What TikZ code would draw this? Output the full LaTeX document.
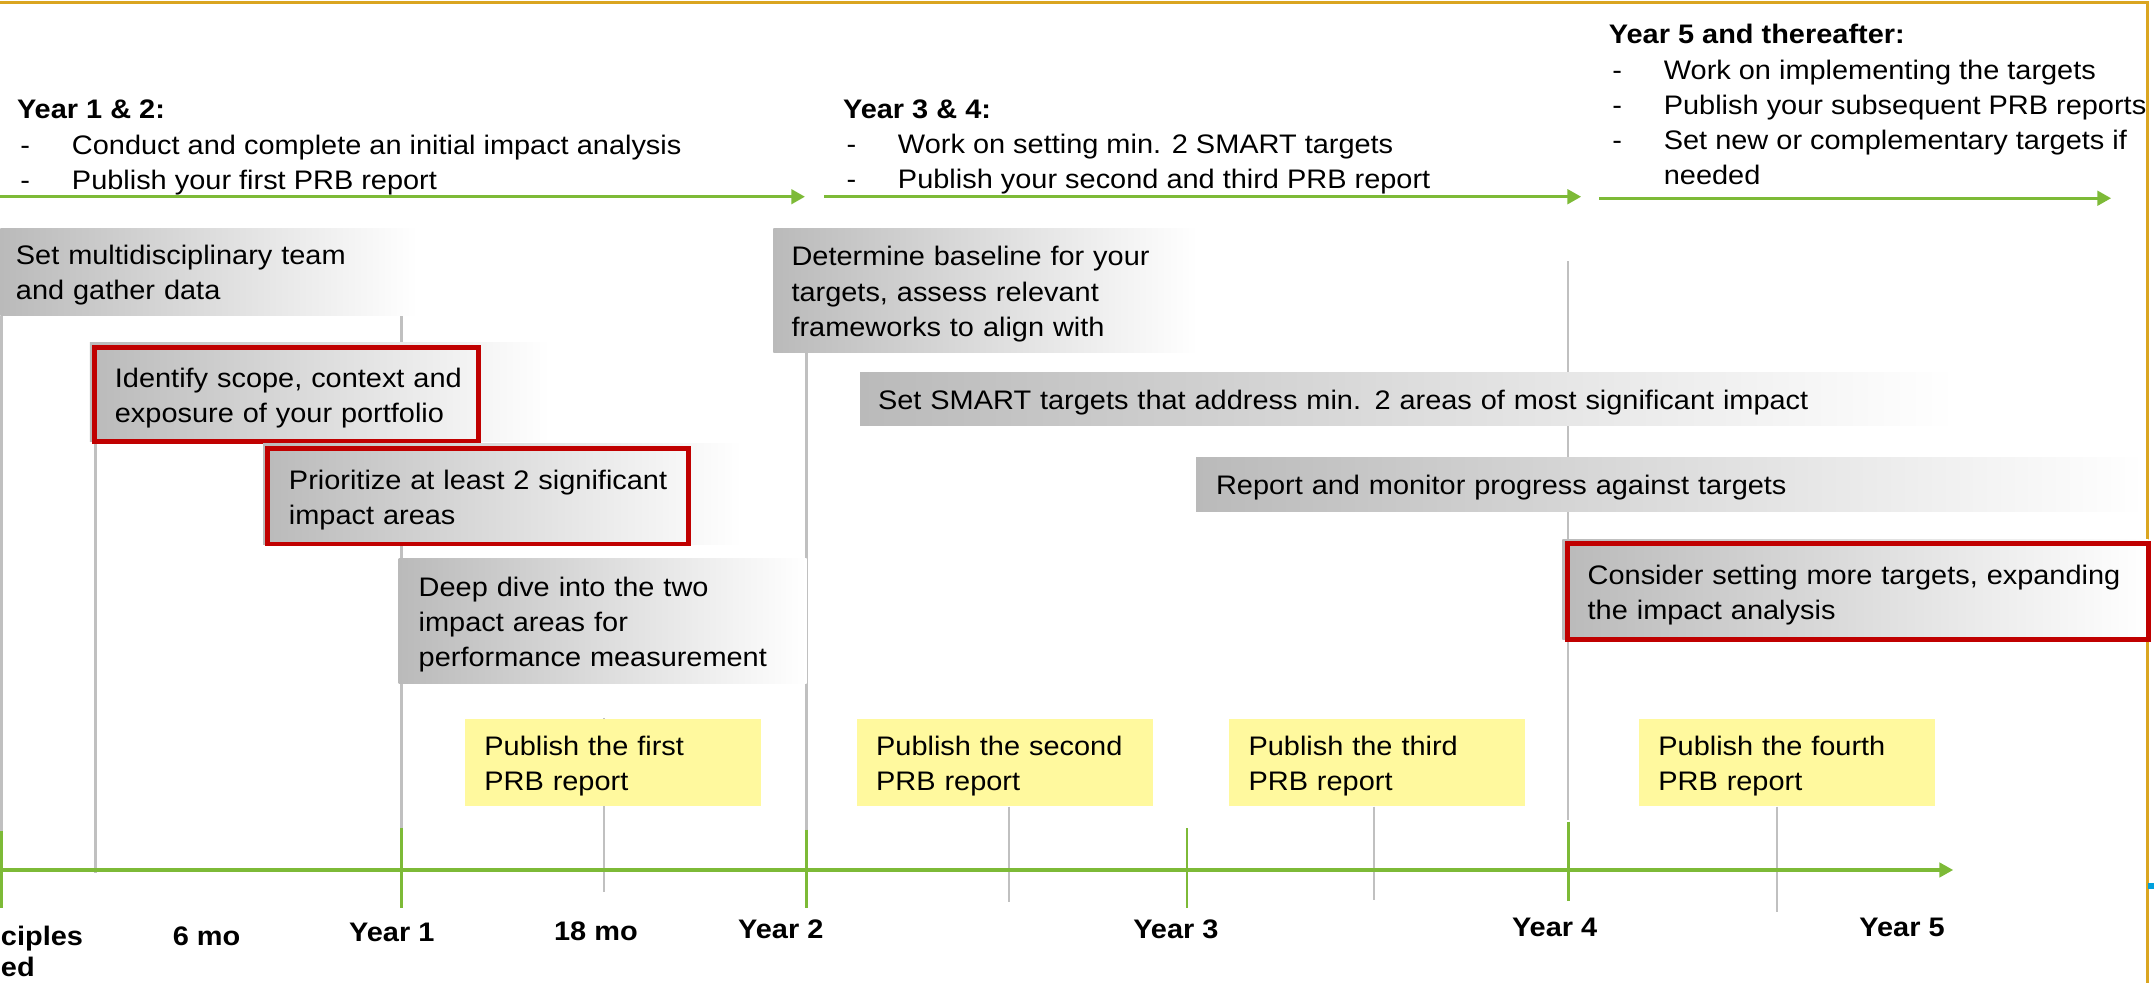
\documentclass[tikz,border=0pt]{standalone}
\usepackage{fontspec}
\setmainfont{Liberation Sans}[FakeStretch=1.08]
\usetikzlibrary{arrows.meta}
\definecolor{tlgreen}{RGB}{125,186,55}
\definecolor{bordergold}{RGB}{218,165,32}
\definecolor{vline}{RGB}{192,192,192}
\definecolor{boxgray}{RGB}{186,186,186}
\definecolor{framered}{RGB}{192,0,0}
\definecolor{pubyellow}{RGB}{255,249,158}
\definecolor{markblue}{RGB}{0,160,220}
\newcommand\mainfs{\fontsize{19.5}{25.6}\selectfont}
\newcommand\bx[1]{\raisebox{-2.5pt}[\height][\depth]{\begin{tabular}[t]{@{}l@{}}#1\end{tabular}}}
\newcommand\bul{\hspace*{2.5pt}\makebox[37.5pt][l]{-}}
\pgfdeclarelayer{bg}
\pgfsetlayers{bg,main}
\begin{document}
\begin{tikzpicture}[x=1pt,y=-1pt,
  arr/.style={draw=tlgreen, line width=2.4pt, -{Triangle[length=10pt,width=10.5pt]}},
  gtick/.style={draw=tlgreen, line width=2pt},
  vl/.style={draw=vline, line width=1.8pt},
  gbox/.style={anchor=north west, inner ysep=0pt, left color=boxgray, right color=white, font=\mainfs, align=left},
  ybox/.style={anchor=north west, inner ysep=0pt, fill=pubyellow, font=\mainfs, align=left},
  rframe/.style={anchor=north west, inner ysep=0pt, draw=framered, line width=3.5pt, font=\mainfs, align=left},
  hdr/.style={anchor=base west, inner sep=0pt, font=\mainfs},
  lab/.style={anchor=base, inner sep=0pt, font=\mainfs\bfseries}]
\useasboundingbox (0,0) rectangle (1568,715);

% frame of the slide
\draw[bordergold, line width=2pt] (0,2) -- (1563,2) -- (1563,716);
\fill[markblue] (1563.8,643) rectangle (1568,647);

% headers
\node[hdr] (h12) at (12.2,86.6) {\begin{tabular}[t]{@{}l@{}}\textbf{Year 1 \& 2:}\\
  \bul Conduct and complete an initial impact analysis\\
  \bul Publish your first PRB report\end{tabular}};
\node[hdr] (h34) at (613.5,86) {\begin{tabular}[t]{@{}l@{}}\textbf{Year 3 \& 4:}\\
  \bul Work on setting min. 2 SMART targets\\
  \bul Publish your second and third PRB report\end{tabular}};
\node[hdr] (h5) at (1171,32) {\begin{tabular}[t]{@{}l@{}}\textbf{Year 5 and thereafter:}\\
  \bul Work on implementing the targets\\
  \bul Publish your subsequent PRB reports\\
  \bul Set new or complementary targets if\\
  \hspace*{40pt}needed\end{tabular}};

% phase arrows
\coordinate (a1s) at (0,143.2);    \coordinate (a1e) at (586,143.2);
\coordinate (a2s) at (600,143.2);  \coordinate (a2e) at (1151,143.2);
\coordinate (a3s) at (1164,144.3); \coordinate (a3e) at (1536.8,144.3);
\draw[arr] (a1s) -- (a1e);
\draw[arr] (a2s) -- (a2e);
\draw[arr] (a3s) -- (a3e);

% timeline marks
\coordinate (m0) at (1,633.3);
\coordinate (m6) at (69.5,633.3);
\coordinate (y1) at (292.3,633.3);
\coordinate (m18) at (439.7,633.3);
\coordinate (y2) at (587,633.3);
\coordinate (m30) at (734.3,633.3);
\coordinate (y3) at (864,633.3);
\coordinate (m42) at (1000,633.3);
\coordinate (y4) at (1141.5,633.3);
\coordinate (m54) at (1293.7,633.3);
\coordinate (y4top) at (1141.5,190);
\coordinate (tlend) at (1421.8,633.3);

% grey activity boxes
\node[gbox, minimum width=304pt, minimum height=63.1pt, inner xsep=11.4pt, text width=281.2pt] (team) at (0,166.2)
  {\bx{Set multidisciplinary team\\and gather data}};
\node[gbox, minimum width=309pt, minimum height=90.3pt, inner xsep=13.3pt, text width=282.4pt] (determine) at (562.7,166.2)
  {\bx{Determine baseline for your\\targets, assess relevant\\frameworks to align with}};
\shade[left color=boxgray, right color=white] (65.5,249.5) rectangle (400,321.5);
\node[rframe, minimum width=279.4pt, minimum height=68.5pt, inner xsep=14.65pt, text width=250.1pt] (identify) at (67.25,251.25)
  {\bx{Identify scope, context and\\exposure of your portfolio}};
\shade[left color=boxgray, right color=white] (191.5,323.2) rectangle (540,396);
\node[rframe, minimum width=306pt, minimum height=69.3pt, inner xsep=15.35pt, text width=275.3pt] (prioritize) at (193.25,324.95)
  {\bx{Prioritize at least 2 significant\\impact areas}};
\node[gbox, minimum width=297pt, minimum height=91pt, inner xsep=14.6pt, text width=267.8pt] (deepdive) at (290,406.4)
  {\bx{Deep dive into the two\\impact areas for\\performance measurement}};
\node[gbox, minimum width=797pt, minimum height=38.4pt, inner xsep=13pt, text width=771pt] (smart) at (626,271)
  {\bx{Set SMART targets that address min. 2 areas of most significant impact}};
\node[gbox, minimum width=690.5pt, minimum height=40pt, inner xsep=14.5pt, text width=661.5pt] (report) at (870.5,332.5)
  {\bx{Report and monitor progress against targets}};
\shade[left color=boxgray, right color=white] (1137.4,392.4) rectangle (1564,465.4);
\node[rframe, minimum width=423.1pt, minimum height=69.5pt, inner xsep=14.85pt, text width=393.4pt] (consider) at (1139.15,394.15)
  {\bx{Consider setting more targets, expanding\\the impact analysis}};

% yellow report boxes
\node[ybox, minimum width=215.5pt, minimum height=63.7pt, inner xsep=14pt, text width=187.5pt] (pub1) at (338.4,523)
  {\bx{Publish the first\\PRB report}};
\node[ybox, minimum width=215.5pt, minimum height=63.7pt, inner xsep=14pt, text width=187.5pt] (pub2) at (623.6,523)
  {\bx{Publish the second\\PRB report}};
\node[ybox, minimum width=215.5pt, minimum height=63.7pt, inner xsep=14pt, text width=187.5pt] (pub3) at (894.7,523)
  {\bx{Publish the third\\PRB report}};
\node[ybox, minimum width=215.5pt, minimum height=63.7pt, inner xsep=14pt, text width=187.5pt] (pub4) at (1193,523)
  {\bx{Publish the fourth\\PRB report}};

% vertical guide lines (behind the boxes)
\begin{pgfonlayer}{bg}
\draw[vl] (team.south -| m0) -- (m0 |- 0,605);
\draw[vl] (identify.south -| m6) -- (m6 |- 0,635.6);
\draw[vl] (team.south -| y1) -- (y1 |- 0,603);
\draw[vl] (pub1.north -| m18) -- (m18 |- 0,649);
\draw[vl] (determine.south -| y2) -- (y2 |- 0,604);
\draw[vl] (pub2.south -| m30) -- (m30 |- 0,656.4);
\draw[vl] (pub3.south -| m42) -- (m42 |- 0,655);
\draw[vl] (y4top) -- (y4 |- 0,597);
\draw[vl] (pub4.south -| m54) -- (m54 |- 0,663.7);
\end{pgfonlayer}

% timeline
\draw[gtick] (m0 |- 0,605) -- (m0 |- 0,661);
\draw[gtick] (y1 |- 0,603) -- (y1 |- 0,661);
\draw[gtick] (y2 |- 0,604) -- (y2 |- 0,661);
\draw[gtick] (y3 |- 0,603) -- (y3 |- 0,661);
\draw[gtick] (y4 |- 0,598) -- (y4 |- 0,655.7);
\draw[arr, line width=2.2pt] (m0) -- (tlend);

% axis labels
\node[hdr, font=\mainfs\bfseries] (l0) at (0.5,688) {\begin{tabular}[t]{@{}l@{}}ciples\\[-3pt]ed\end{tabular}};
\node[lab] (l6) at (150.4,688) {6 mo};
\node[lab] (l12) at (285.2,685.5) {Year 1};
\node[lab] (l18) at (433.8,684.3) {18 mo};
\node[lab] (l24) at (568.4,683) {Year 2};
\node[lab] (l36) at (856,683) {Year 3};
\node[lab] (l48) at (1131.7,682) {Year 4};
\node[lab] (l60) at (1384.6,682) {Year 5};
\end{tikzpicture}
\end{document}
